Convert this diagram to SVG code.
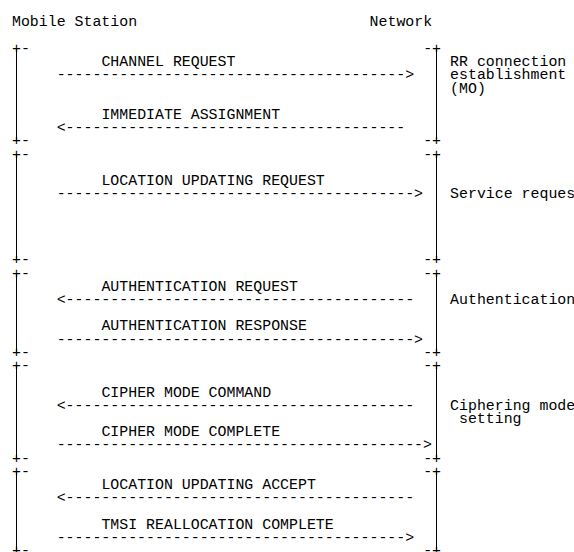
<svg xmlns="http://www.w3.org/2000/svg" width="574" height="552" viewBox="0 0 574 552">
<style>
.t{font-family:"Liberation Mono","Courier New",monospace;font-size:14.9px;fill:#000}
.v{stroke:#000;stroke-width:1;fill:none}
</style>
<rect width="574" height="552" fill="#fff"/>
<g id="mobile-station">
<text class="t" x="12" y="26.4">Mobile Station</text>
<text class="t" x="12" y="52.8">+-</text>
<text class="t" x="12" y="145.3">+-</text>
<text class="t" x="12" y="158.6">+-</text>
<text class="t" x="12" y="264.3">+-</text>
<text class="t" x="12" y="277.5">+-</text>
<text class="t" x="12" y="356.9">+-</text>
<text class="t" x="12" y="370.1">+-</text>
<text class="t" x="12" y="462.6">+-</text>
<text class="t" x="12" y="475.8">+-</text>
<text class="t" x="12" y="555.2">+-</text>
<line class="v" x1="16.5" y1="48.3" x2="16.5" y2="140.8"/>
<line class="v" x1="16.5" y1="154.1" x2="16.5" y2="259.8"/>
<line class="v" x1="16.5" y1="273" x2="16.5" y2="352.4"/>
<line class="v" x1="16.5" y1="365.6" x2="16.5" y2="458.1"/>
<line class="v" x1="16.5" y1="471.3" x2="16.5" y2="550.7"/>
</g>
<g id="network">
<text class="t" x="369.6" y="26.4">Network</text>
<text class="t" x="423.2" y="52.8">-+</text>
<text class="t" x="423.2" y="145.3">-+</text>
<text class="t" x="423.2" y="158.6">-+</text>
<text class="t" x="423.2" y="264.3">-+</text>
<text class="t" x="423.2" y="277.5">-+</text>
<text class="t" x="423.2" y="356.9">-+</text>
<text class="t" x="423.2" y="370.1">-+</text>
<text class="t" x="423.2" y="462.6">-+</text>
<text class="t" x="423.2" y="475.8">-+</text>
<text class="t" x="423.2" y="555.2">-+</text>
<line class="v" x1="436.5" y1="48.3" x2="436.5" y2="140.8"/>
<line class="v" x1="436.5" y1="154.1" x2="436.5" y2="259.8"/>
<line class="v" x1="436.5" y1="273" x2="436.5" y2="352.4"/>
<line class="v" x1="436.5" y1="365.6" x2="436.5" y2="458.1"/>
<line class="v" x1="436.5" y1="471.3" x2="436.5" y2="550.7"/>
</g>
<g id="phase-labels">
<text class="t" x="450.1" y="66">RR connection</text>
<text class="t" x="450.1" y="79.2">establishment</text>
<text class="t" x="450.1" y="92.5">(MO)</text>
<text class="t" x="450.1" y="198.2">Service request</text>
<text class="t" x="450.1" y="304">Authentication</text>
<text class="t" x="450.1" y="409.7">Ciphering mode</text>
<text class="t" x="459" y="423">setting</text>
</g>
<g id="connectors">
<text class="t" x="101.4" y="66">CHANNEL REQUEST</text>
<text class="t" x="56.7" y="79.2">---------------------------------------&gt;</text>
<text class="t" x="101.4" y="118.9">IMMEDIATE ASSIGNMENT</text>
<text class="t" x="56.7" y="132.1">&lt;--------------------------------------</text>
<text class="t" x="101.4" y="185">LOCATION UPDATING REQUEST</text>
<text class="t" x="56.7" y="198.2">----------------------------------------&gt;</text>
<text class="t" x="101.4" y="290.8">AUTHENTICATION REQUEST</text>
<text class="t" x="56.7" y="304">&lt;---------------------------------------</text>
<text class="t" x="101.4" y="330.4">AUTHENTICATION RESPONSE</text>
<text class="t" x="56.7" y="343.6">----------------------------------------&gt;</text>
<text class="t" x="101.4" y="396.5">CIPHER MODE COMMAND</text>
<text class="t" x="56.7" y="409.7">&lt;---------------------------------------</text>
<text class="t" x="101.4" y="436.2">CIPHER MODE COMPLETE</text>
<text class="t" x="56.7" y="449.4">-----------------------------------------&gt;</text>
<text class="t" x="101.4" y="489.1">LOCATION UPDATING ACCEPT</text>
<text class="t" x="56.7" y="502.3">&lt;---------------------------------------</text>
<text class="t" x="101.4" y="528.7">TMSI REALLOCATION COMPLETE</text>
<text class="t" x="56.7" y="541.9">---------------------------------------&gt;</text>
</g>
</svg>
